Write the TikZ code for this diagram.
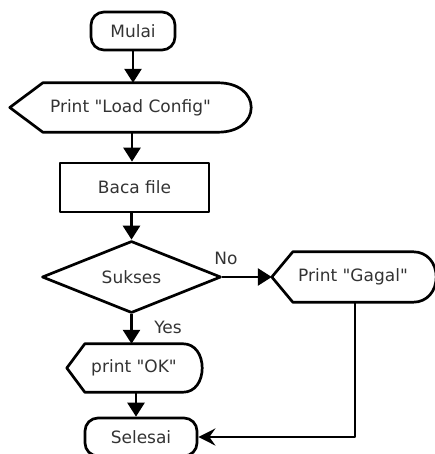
\documentclass[tikz,border=0pt]{standalone}
\usepackage{fontspec}
\setmainfont{DejaVu Sans}[Ligatures=TeXOff]
\usetikzlibrary{shapes.geometric,arrows.meta}
\begin{document}
\begin{tikzpicture}[x=1pt,y=-1pt,
  every node/.style={font=\fontsize{17}{20}\selectfont, text=black!80, inner sep=0pt},
  ln/.style={line width=2.7pt, line join=round},
  term/.style={ln, draw, rectangle, rounded corners=13pt},
  body/.style={rectangle},
  procbox/.style={ln, draw, rectangle},
  dec/.style={ln, draw, diamond, aspect=2.49},
  arr/.style={ln, -{Triangle[length=14pt,width=17pt]}},
  arrb/.style={ln, -{Stealth[length=17pt,width=17pt,inset=6pt]}},
  lbl/.style={}]
\useasboundingbox (0,0) rectangle (435,454);
% nodes
\node[term, minimum width=84pt, minimum height=38pt] (mulai) at (133,31) {Mulai};
\node[body, minimum width=175pt, minimum height=49pt] (lc) at (130.5,107.5) {Print "Load Config"};
\draw[ln] (lc.north west) -- (lc.north east) .. controls +(20,0) and +(0,-14) .. ([xshift=33pt]lc.east)
  .. controls +(0,14) and +(20,0) .. (lc.south east) -- (lc.south west) -- ([xshift=-33pt]lc.west) -- cycle;
\node[procbox, minimum width=149pt, minimum height=49pt] (baca) at (134.5,187.5) {Baca file};
\node[dec, minimum width=179pt, minimum height=72pt] (sukses) at (131.5,277) {Sukses};
\node[body, minimum width=120pt, minimum height=50pt] (gagal) at (353,277) {Print "Gagal"};
\coordinate (gagalL) at ([xshift=-21pt]gagal.west);
\draw[ln] (gagal.north west) -- (gagal.north east) .. controls +(14,0) and +(0,-14) .. ([xshift=23pt]gagal.east)
  .. controls +(0,14) and +(14,0) .. (gagal.south east) -- (gagal.south west) -- (gagalL) -- cycle;
\node[body, minimum width=98pt, minimum height=48pt] (ok) at (134,368) {print "OK"};
\draw[ln] (ok.north west) -- (ok.north east) .. controls +(12,0) and +(0,-13) .. ([xshift=19pt]ok.east)
  .. controls +(0,13) and +(12,0) .. (ok.south east) -- (ok.south west) -- ([xshift=-18pt]ok.west) -- cycle;
\node[term, minimum width=112pt, minimum height=38pt] (selesai) at (141,437) {Selesai};
% labels
\node[lbl] (no) at (226,258) {No};
\node[lbl] (yes) at (168,327) {Yes};
% connectors
\draw[arr] (mulai.south) -- (mulai.south |- lc.north);
\draw[arr] ([xshift=1.5pt]lc.south) -- ([xshift=1.5pt]lc.south |- baca.north);
\draw[arr] (baca.south -| sukses.north) -- (sukses.north);
\draw[arr] (sukses.east) -- (gagalL);
\draw[arr] (sukses.south) -- (sukses.south |- ok.north);
\draw[arr] ([xshift=2pt]ok.south) -- ([xshift=2pt]ok.south |- selesai.north);
\coordinate (turn) at ([xshift=2pt]gagal.south |- selesai.east);
\draw[arrb] ([xshift=2pt]gagal.south) -- (turn) -- (selesai.east);
\end{tikzpicture}
\end{document}
